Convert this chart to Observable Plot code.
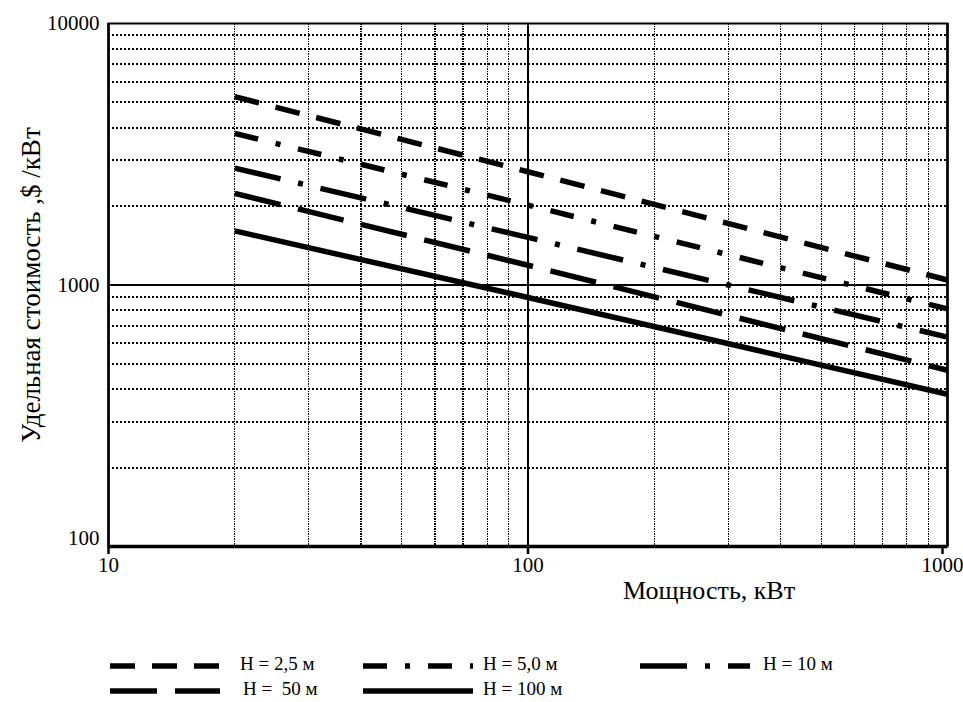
<!DOCTYPE html>
<html>
<head>
<meta charset="utf-8">
<script src="https://cdn.jsdelivr.net/npm/d3@7"></script>
<script src="https://cdn.jsdelivr.net/npm/@observablehq/plot@0.6"></script>
<style>
  html, body { margin: 0; padding: 0; background: #fff; }
  body { width: 963px; height: 702px; overflow: hidden; font-family: "Liberation Serif", "Times New Roman", serif; }
  #legend { position: relative; width: 963px; height: 92px; }
  .item { position: absolute; display: flex; align-items: center; height: 20px; }
  .item svg { display: block; }
  .lab { position: absolute; font-size: 19px; white-space: pre; line-height: 20px; color: #000; }
</style>
</head>
<body>
<div id="chart"></div>
<div id="legend"></div>
<script>
// ---- data ----
const power = [20, 100, 1000];                 // кВт
const cost25 = [5250, 2710, 1045];             // H = 2,5 м
const cost5 = [3800, 2020, 810];               // H = 5,0 м
const cost10 = [2800, 1520, 632];              // H = 10 м
const cost50 = [2240, 1190, 472];              // H = 50 м
const cost100 = [1610, 896, 382];              // H = 100 м
const seriesLabels = ["H = 2,5 м", "H = 5,0 м", "H = 10 м", "H =  50 м", "H = 100 м"];
const xTicks = [10, 100, 1000];
const yTicks = [100, 1000, 10000];
const xMinor = [20, 30, 40, 50, 60, 70, 80, 90, 200, 300, 400, 500, 600, 700, 800, 900];
const yMinor = [200, 300, 400, 500, 600, 700, 800, 900, 2000, 3000, 4000, 5000, 6000, 7000, 8000, 9000];
const xLabel = "Мощность, кВт";
const yLabel = "Удельная стоимость ,$ /кВт";

// ---- styles ----
const font = "'Liberation Serif', 'Times New Roman', serif";
const dashes = ["25,17", "24,18,5,18", "47,18,5,18", "47,18", null];
const seriesValues = [cost25, cost5, cost10, cost50, cost100];
const series = seriesValues.map((vals, k) => ({
  label: seriesLabels[k],
  dash: dashes[k],
  data: power.map((p, i) => ({p, c: vals[i]}))
}));

const lineMarks = series.map(s => Plot.line(s.data, {
  x: "p", y: "c", stroke: "black", strokeWidth: 5.5,
  strokeDasharray: s.dash ?? undefined, strokeLinecap: "butt", strokeLinejoin: "round"
}));

const chart = Plot.plot({
  width: 963,
  height: 610,
  marginLeft: 108,
  marginRight: 16,
  marginTop: 23,
  marginBottom: 64,
  x: {type: "log", domain: [10, 1000]},
  y: {type: "log", domain: [100, 10000]},
  style: {fontFamily: font, background: "white", color: "black", overflow: "visible"},
  marks: [
    Plot.ruleX(xMinor, {stroke: "black", strokeWidth: 1.3, strokeDasharray: "1.5,1", shapeRendering: "crispEdges"}),
    Plot.ruleY(yMinor, {stroke: "black", strokeWidth: 2, strokeDasharray: "2,2", shapeRendering: "crispEdges"}),
    Plot.ruleX([100], {stroke: "black", strokeWidth: 2, shapeRendering: "crispEdges"}),
    Plot.ruleY([1000], {stroke: "black", strokeWidth: 2, shapeRendering: "crispEdges"}),
    ...lineMarks,
    Plot.frame({stroke: "black", strokeWidth: 2}),
    Plot.ruleY([100], {stroke: "black", strokeWidth: 3.5}),
    Plot.ruleX([10], {stroke: "black", strokeWidth: 2.5}),
    Plot.ruleX([1000], {stroke: "black", strokeWidth: 2.5}),
    Plot.axisX(xTicks.slice(0, 2), {tickSize: 8, tickPadding: 3, fontSize: 21, strokeWidth: 2.5, tickFormat: d => String(d), label: null}),
    Plot.axisX(xTicks.slice(2), {tickSize: 8, tickPadding: 3, fontSize: 21, strokeWidth: 2.5, tickFormat: d => String(d), label: null, dx: -5}),
    Plot.axisY(yTicks.slice(1), {tickSize: 0, tickPadding: 9, fontSize: 21, tickFormat: d => String(d), label: null}),
    Plot.axisY(yTicks.slice(0, 1), {tickSize: 0, tickPadding: 9, fontSize: 21, tickFormat: d => String(d), label: null, dy: -8}),
    Plot.text([xLabel], {frameAnchor: "bottom", textAnchor: "middle", lineAnchor: "middle", dx: 181, dy: 44, fontSize: 26, fill: "black"}),
    Plot.text([yLabel], {frameAnchor: "left", textAnchor: "middle", lineAnchor: "middle", dx: -77, rotate: -90, fontSize: 27, fill: "black"})
  ]
});
document.getElementById("chart").appendChild(chart);

// ---- legend ----
const legendPos = [
  {sx: 110, lx: 240, y: 56},
  {sx: 363, lx: 483, y: 56},
  {sx: 640, lx: 763, y: 56},
  {sx: 110, lx: 243, y: 81},
  {sx: 363, lx: 483, y: 81}
];
const legend = document.getElementById("legend");
series.forEach((s, k) => {
  const pos = legendPos[k];
  const it = document.createElement("div");
  it.className = "item";
  it.style.left = pos.sx + "px";
  it.style.top = (pos.y - 10) + "px";
  const ns = "http://www.w3.org/2000/svg";
  const svg = document.createElementNS(ns, "svg");
  svg.setAttribute("width", 110);
  svg.setAttribute("height", 20);
  const ln = document.createElementNS(ns, "line");
  ln.setAttribute("x1", 0); ln.setAttribute("x2", 110);
  ln.setAttribute("y1", 10); ln.setAttribute("y2", 10);
  ln.setAttribute("stroke", "black");
  ln.setAttribute("stroke-width", 5.5);
  if (s.dash) ln.setAttribute("stroke-dasharray", s.dash);
  svg.appendChild(ln);
  it.appendChild(svg);
  legend.appendChild(it);
  const lab = document.createElement("div");
  lab.className = "lab";
  lab.textContent = s.label;
  lab.style.left = pos.lx + "px";
  lab.style.top = (pos.y - 12) + "px";
  legend.appendChild(lab);
});
</script>
</body>
</html>
